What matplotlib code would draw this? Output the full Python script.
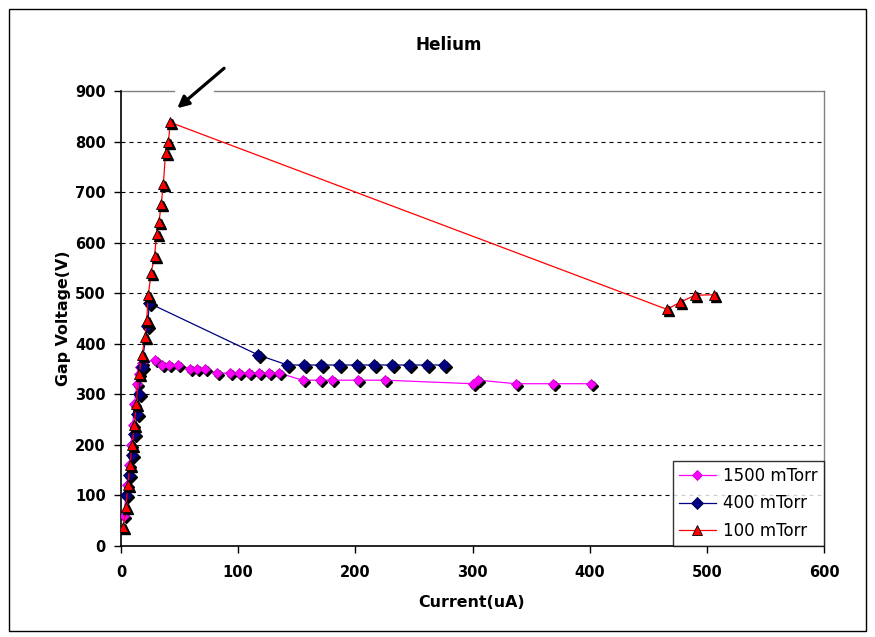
import matplotlib
matplotlib.use("Agg")
import matplotlib.pyplot as plt
from matplotlib.transforms import offset_copy
from matplotlib.lines import Line2D
from matplotlib.patches import Rectangle

plt.rcParams['font.family'] = ['DejaVu Sans']

# Discharge characteristics in helium at three pressures
labels = ["1500 mTorr", "400 mTorr", "100 mTorr"]

current_1500 = [2.5, 5, 7, 8.5, 10, 11.5, 13.5, 15.5, 16.5, 18, 29, 35, 41, 49, 59, 65, 72,
                82, 93, 101, 109, 118, 126, 135, 155, 170, 180, 202, 225, 300, 305, 337, 369, 401]
voltage_1500 = [60, 120, 160, 200, 240, 280, 320, 340, 355, 362, 368, 359, 359, 359, 350, 350, 350,
                342, 342, 342, 342, 342, 342, 342, 328, 328, 328, 328, 328, 321, 328, 321, 321, 321]

current_400 = [4, 7, 9.5, 11.5, 13.8, 15.3, 17.5, 22.5, 24.3, 117, 142, 156, 171, 186, 201,
               216, 231, 246, 261, 276]
voltage_400 = [100, 140, 180, 222, 262, 300, 355, 436, 480, 378, 358, 358, 358, 358, 358,
               358, 358, 358, 358, 358]

current_100 = [2, 4.3, 5.7, 7.6, 9.5, 11.4, 12.9, 15.4, 18, 20.5, 21.9, 23.3, 25.7, 28.6, 30.5,
               32.4, 34.3, 36.2, 38, 40.5, 42, 466, 477, 490, 506]
voltage_100 = [38, 78, 120, 160, 200, 240, 280, 340, 378, 414, 447, 496, 540, 573, 618,
               640, 676, 717, 778, 800, 838, 468, 482, 496, 497]

x_ticks = [0, 100, 200, 300, 400, 500, 600]
y_ticks = [0, 100, 200, 300, 400, 500, 600, 700, 800, 900]

W, H = 875, 637
fig = plt.figure(figsize=(W / 100, H / 100), dpi=100)
ax = fig.add_axes([121 / W, 1 - 546 / H, 703 / W, 455 / H])

# chart-area frame
fig.patches.append(Rectangle((9 / W, 1 - 631 / H), 857 / W, 622 / H, transform=fig.transFigure,
                             fill=False, edgecolor='black', linewidth=1.0))

series = [
    (current_1500, voltage_1500, '#FF00FF', 'D', 5.2, '#CC00CC'),
    (current_400, voltage_400, '#000080', 'D', 5.8, '#000050'),
    (current_100, voltage_100, '#FF0000', '^', 7.8, 'black'),
]

shadow = offset_copy(ax.transData, fig=fig, x=2, y=-2, units='dots')
handles = []
for i, (xs, ys, col, mk, ms, ec) in enumerate(series):
    z = 3 + i * 3
    ax.plot(xs, ys, color=col, linewidth=0.9, zorder=z)
    ax.plot(xs, ys, linestyle='none', marker=mk, markersize=ms, color='black',
            markeredgecolor='black', transform=shadow, zorder=z + 1)
    ax.plot(xs, ys, linestyle='none', marker=mk, markersize=ms, color=col,
            markeredgecolor=ec, markeredgewidth=0.6, zorder=z + 2)
    handles.append(Line2D([], [], color=col, linewidth=0.9, marker=mk, markersize=ms,
                          markerfacecolor=col, markeredgecolor=ec, markeredgewidth=0.6))

ax.set_xlim(0, 600)
ax.set_ylim(0, 900)
ax.set_xticks(x_ticks)
ax.set_yticks(y_ticks)
ax.tick_params(direction='out', length=5, width=1, labelsize=10.5, colors='black')
ax.tick_params(axis='y', pad=6)
ax.tick_params(axis='x', pad=9)
for lab in ax.get_xticklabels() + ax.get_yticklabels():
    lab.set_fontweight('bold')

# horizontal dashed gridlines
ax.yaxis.grid(True, color='black', linestyle=(0, (3.6, 3.6)), linewidth=0.8)
ax.xaxis.grid(False)
ax.set_axisbelow(True)
gl = ax.get_ygridlines()
gl[0].set_visible(False)
gl[-1].set_visible(False)

for s in ('left', 'bottom'):
    ax.spines[s].set_color('black')
    ax.spines[s].set_linewidth(1.2)
ax.spines['right'].set_color('#808080')
ax.spines['right'].set_linewidth(1.0)
ax.spines['top'].set_visible(False)
# plot-area top border, interrupted around the arrow
for x0, x1 in ((0, 0.0754), (0.132, 1.0)):
    ax.add_line(Line2D([x0, x1], [1, 1], transform=ax.transAxes, color='#808080',
                       linewidth=1.0, clip_on=False))

ax.annotate('', xy=(48, 866), xytext=(88, 945), xycoords='data', textcoords='data',
            arrowprops=dict(arrowstyle='-|>', color='black', lw=2.3, mutation_scale=17,
                            shrinkA=0, shrinkB=0),
            annotation_clip=False)

ax.set_xlabel('Current(uA)', fontsize=11.4, fontweight='bold', va='center')
ax.xaxis.set_label_coords(0.499, -0.125)
ax.set_ylabel('Gap Voltage(V)', fontsize=11.4, fontweight='bold', va='center')
ax.yaxis.set_label_coords(-0.0825, 0.5)

fig.text(448.5 / W, 1 - 45 / H, 'Helium', ha='center', va='center', fontsize=12.2,
         fontweight='bold')

leg = ax.legend(handles, labels, loc='lower right', bbox_to_anchor=(1, 0), borderaxespad=0,
                fontsize=12, frameon=True, fancybox=False, handlelength=2.2,
                handletextpad=0.45, labelspacing=0.56, borderpad=0.38)
leg.get_frame().set_edgecolor('black')
leg.get_frame().set_linewidth(1.0)
leg.set_zorder(20)

fig.savefig('out.png', dpi=100)
